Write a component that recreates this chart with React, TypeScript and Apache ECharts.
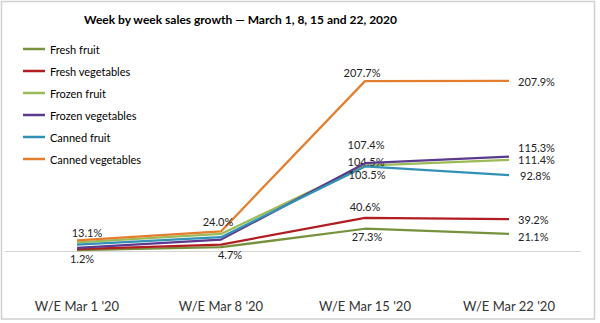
import React, { useEffect, useRef } from "react";
import * as echarts from "echarts";

const categories = ["W/E Mar 1 '20", "W/E Mar 8 '20", "W/E Mar 15 '20", "W/E Mar 22 '20"];
const seriesNames = ["Fresh fruit", "Fresh vegetables", "Frozen fruit", "Frozen vegetables", "Canned fruit", "Canned vegetables"];
const freshFruit = [1.2, 4.7, 27.3, 21.1];
const freshVegetables = [2.5, 8.0, 40.6, 39.2];
const frozenFruit = [10.5, 21.0, 104.5, 111.4];
const frozenVegetables = [4.0, 14.0, 107.4, 115.3];
const cannedFruit = [8.0, 17.0, 103.5, 92.8];
const cannedVegetables = [13.1, 24.0, 207.7, 207.9];
const titleText = "Week by week sales growth \u2014 March 1, 8, 15 and 22, 2020";

const FONT = "Lato";
const colors = ["#76923C", "#B01E23", "#9BBB59", "#5B3A8E", "#3391B5", "#E37E2E"];

// label layout per series per point: null = no label; [position, dx, dy, distance]
type L = [string, number, number, number] | null;
const labelLayoutTable: L[][] = [
  [["bottom", 5, 1, 2], ["bottom", 9, 0, 2], ["bottom", 2, 1, 1], ["right", 0, 3, 9]],
  [null, null, ["top", 0, -2, 4], ["right", 0, 0, 9]],
  [null, null, ["top", 1, 1, 0], ["right", 0, 0, 9]],
  [null, null, ["top", 1, -11, 2], ["right", 0, -9, 9]],
  [null, null, ["bottom", 2, 0, 3], ["right", 2, 0.5, 9]],
  [["top", 10, 0, 2], ["top", -3, 0, 4], ["top", -3, -1, 2], ["right", 0, 0.5, 9]],
];

export default function App() {
  const ref = useRef<HTMLDivElement>(null);
  useEffect(() => {
    if (!ref.current) return;
    const chart = echarts.init(ref.current, null, { renderer: "svg" });
    const values = [freshFruit, freshVegetables, frozenFruit, frozenVegetables, cannedFruit, cannedVegetables];
    const series: any[] = values.map((vals, si) => ({
      name: seriesNames[si],
      type: "line",
      showSymbol: true,
      symbol: "circle",
      symbolSize: 0.01,
      lineStyle: { width: 2.25, color: colors[si] },
      itemStyle: { color: colors[si] },
      z: 2 + si,
      labelLayout: (p: any) => {
        const l = labelLayoutTable[si][p.dataIndex];
        if (!l) return {};
        return { dx: l[1], dy: l[2], hideOverlap: false };
      },
      data: vals.map((v, i) => {
        const l = labelLayoutTable[si][i];
        if (!l) return { value: v, label: { show: false } };
        return {
          value: v,
          label: {
            show: true,
            position: l[0],
            distance: l[3],
            formatter: (p: any) => Number(p.value).toFixed(1) + "%",
            fontFamily: FONT,
            fontSize: 11,
            color: "#222",
          },
        };
      }),
      markLine:
        si === 0
          ? {
              silent: true,
              symbol: ["none", "none"],
              label: { show: false },
              lineStyle: { color: "#d4d4d4", width: 1, type: "solid" },
              data: [{ yAxis: 0 }],
              z: 1,
            }
          : undefined,
    }));
    chart.setOption({
      animation: false,
      backgroundColor: "#fff",
      title: {
        text: titleText,
        left: 84,
        top: 13,
        padding: 0,
        textStyle: { fontFamily: FONT, fontSize: 12, fontWeight: "bold", color: "#000" },
      },
      legend: {
        orient: "vertical",
        left: 23,
        top: 42,
        padding: 0,
        icon: "rect",
        itemWidth: 22,
        itemHeight: 2.5,
        itemGap: 8,
        data: seriesNames,
        textStyle: { fontFamily: FONT, fontSize: 11, color: "#000", lineHeight: 14 },
      },
      grid: { left: 5, right: 19, top: 46.5, bottom: 31, containLabel: false },
      xAxis: {
        type: "category",
        data: categories,
        boundaryGap: true,
        axisLine: { show: false, onZero: false },
        axisTick: { show: false },
        splitLine: { show: false },
        axisLabel: { fontFamily: FONT, fontSize: 13, color: "#333", margin: 7 },
      },
      yAxis: {
        type: "value",
        min: -50,
        max: 250,
        show: false,
        splitLine: { show: false },
      },
      graphic: [
        {
          type: "rect",
          shape: { x: 1.5, y: 1.5, width: 593, height: 317.5 },
          style: { fill: "none", stroke: "#d0d0d0", lineWidth: 1.5 },
          silent: true,
        },
      ],
      series,
    });
    return () => chart.dispose();
  }, []);
  return (
    <div
      ref={ref}
      style={{ position: "absolute", left: 0, top: 0, width: 600, height: 323, background: "#fff" }}
    />
  );
}
